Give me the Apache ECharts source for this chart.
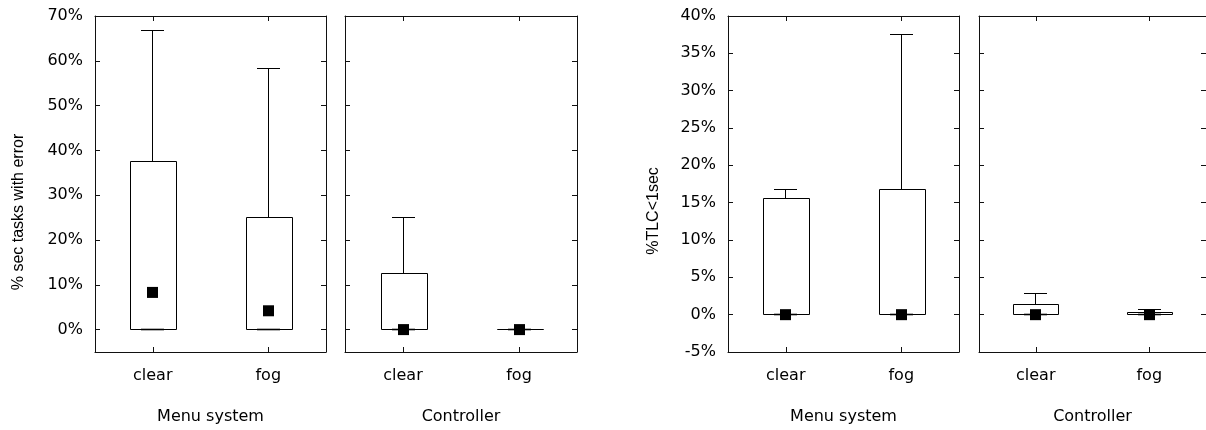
<!DOCTYPE html>
<html>
<head>
<meta charset="utf-8">
<script src="https://cdn.jsdelivr.net/npm/echarts@6/dist/echarts.min.js"></script>
<style>
  html, body { margin: 0; padding: 0; background: #fff; }
  #chart { width: 1206px; height: 430px; }
</style>
</head>
<body>
<div id="chart"></div>
<script>
// ---------------- data ----------------
const categories = ['clear', 'fog'];
const groupNames = ['Menu system', 'Controller', 'Menu system', 'Controller'];
const yNames = ['% sec tasks with error', '%TLC<1sec'];

// each row: [min, q1, median marker, q3, max]  (values in %)
const errorMenu       = [[0, 0, 8.3, 37.5, 66.7], [0, 0, 4.2, 25, 58.3]];
const errorController = [[0, 0, 0, 12.5, 25],     [0, 0, 0, 0, 0]];
const tlcMenu         = [[0, 0, 0, 15.5, 16.7],   [0, 0, 0, 16.7, 37.5]];
const tlcController   = [[0, 0, 0, 1.3, 2.9],     [0, 0, 0, 0.35, 0.67]];

const errorTicks = [0, 10, 20, 30, 40, 50, 60, 70];
const tlcTicks = [-5, 0, 5, 10, 15, 20, 25, 30, 35, 40];
const errorRange = [-5, 70];
const tlcRange = [-5, 40];

// ---------------- layout ----------------
const TXT = '#000';
const LINE = '#111';
const tickFont = 'DejaVu Sans';
const grids = [
  { left: 95,  top: 16, width: 231, height: 336 },
  { left: 345, top: 16, width: 232, height: 336 },
  { left: 728, top: 16, width: 231, height: 336 },
  { left: 979, top: 16, width: 231, height: 336 }
];
const panelData = [errorMenu, errorController, tlcMenu, tlcController];
const panelRange = [errorRange, errorRange, tlcRange, tlcRange];
const panelTicks = [errorTicks, errorTicks, tlcTicks, tlcTicks];

const xAxes = [];
const yAxes = [];
grids.forEach((g, i) => {
  xAxes.push({
    type: 'category', gridIndex: i, data: categories, position: 'bottom',
    boundaryGap: true,
    axisLine: { show: true, onZero: false, lineStyle: { color: LINE, width: 1 } },
    axisTick: { show: true, inside: true, length: 5, alignWithLabel: true, lineStyle: { color: LINE } },
    axisLabel: { show: true, color: TXT, fontFamily: tickFont, fontSize: 16, margin: 16 },
    splitLine: { show: false },
    name: groupNames[i], nameLocation: 'middle', nameGap: 57,
    nameTextStyle: { color: TXT, fontFamily: tickFont, fontSize: 16 }
  });
});
grids.forEach((g, i) => {
  xAxes.push({
    type: 'category', gridIndex: i, data: categories, position: 'top',
    boundaryGap: true,
    axisLine: { show: true, onZero: false, lineStyle: { color: LINE, width: 1 } },
    axisTick: { show: true, inside: true, length: 5, alignWithLabel: true, lineStyle: { color: LINE } },
    axisLabel: { show: false },
    splitLine: { show: false }
  });
});
grids.forEach((g, i) => {
  const showLabels = (i === 0 || i === 2);
  yAxes.push({
    type: 'value', gridIndex: i, position: 'left',
    min: panelRange[i][0], max: panelRange[i][1], interval: 5,
    axisLine: { show: true, onZero: false, lineStyle: { color: LINE, width: 1 } },
    axisTick: { show: true, inside: true, length: 5, customValues: panelTicks[i], lineStyle: { color: LINE } },
    axisLabel: {
      show: showLabels, customValues: panelTicks[i], color: TXT, fontFamily: tickFont, fontSize: 16,
      margin: 12, formatter: v => v + '%'
    },
    splitLine: { show: false }
  });
});
grids.forEach((g, i) => {
  yAxes.push({
    type: 'value', gridIndex: i, position: 'right',
    min: panelRange[i][0], max: panelRange[i][1], interval: 5,
    axisLine: { show: true, onZero: false, lineStyle: { color: LINE, width: 1 } },
    axisTick: { show: true, inside: true, length: 5, customValues: panelTicks[i], lineStyle: { color: LINE } },
    axisLabel: { show: false },
    splitLine: { show: false }
  });
});

function crisp(v) { return Math.round(v - 0.5) + 0.5; }

function renderBox(params, api) {
  const cat = api.value(0);
  const vMin = api.value(1), q1 = api.value(2), med = api.value(3), q3 = api.value(4), vMax = api.value(5);
  const band = api.size([1, 0])[0];
  const bw = Math.round(band * 0.4);
  const cw = Math.round(bw / 2);
  const cx = crisp(api.coord([cat, 0])[0]);
  const Y = v => crisp(api.coord([cat, v])[1]);
  const st = { stroke: '#000', lineWidth: 1, fill: null };
  const left = cx - bw / 2;
  const children = [
    { type: 'line', shape: { x1: cx, y1: Y(q3), x2: cx, y2: Y(vMax) }, style: st },
    { type: 'line', shape: { x1: cx - cw / 2, y1: Y(vMax), x2: cx + cw / 2, y2: Y(vMax) }, style: st },
    { type: 'line', shape: { x1: cx, y1: Y(vMin), x2: cx, y2: Y(q1) }, style: st },
    { type: 'rect', shape: { x: Math.round(left) + 0.5, y: Y(q3), width: bw, height: Y(q1) - Y(q3) },
      style: { stroke: '#000', lineWidth: 1, fill: '#fff' } },
    { type: 'line', shape: { x1: cx - cw / 2, y1: Y(vMin), x2: cx + cw / 2, y2: Y(vMin) },
      style: { stroke: '#000', lineWidth: 1.6 } },
    { type: 'rect', shape: { x: cx - 5.5, y: api.coord([cat, med])[1] - 5.5, width: 11, height: 11 },
      style: { fill: '#000', stroke: null } }
  ];
  return { type: 'group', children };
}

const series = panelData.map((rows, i) => ({
  type: 'custom',
  xAxisIndex: i, yAxisIndex: i,
  renderItem: renderBox,
  encode: { x: 0, y: [1, 2, 3, 4, 5] },
  data: rows.map((r, k) => [k].concat(r)),
  clip: false,
  silent: true
}));

const chart = echarts.init(document.getElementById('chart'), null, { renderer: 'canvas' });
chart.setOption({
  animation: false,
  backgroundColor: '#fff',
  grid: grids,
  xAxis: xAxes,
  yAxis: yAxes,
  series: series,
  graphic: [
    { type: 'text', x: 18.5, y: 212, rotation: Math.PI / 2,
      style: { text: yNames[0], fill: TXT, font: '16px "Liberation Sans"', align: 'center', verticalAlign: 'middle' } },
    { type: 'text', x: 653.5, y: 211, rotation: Math.PI / 2,
      style: { text: yNames[1], fill: TXT, font: '16px "Liberation Sans"', align: 'center', verticalAlign: 'middle' } }
  ]
});
</script>
</body>
</html>
